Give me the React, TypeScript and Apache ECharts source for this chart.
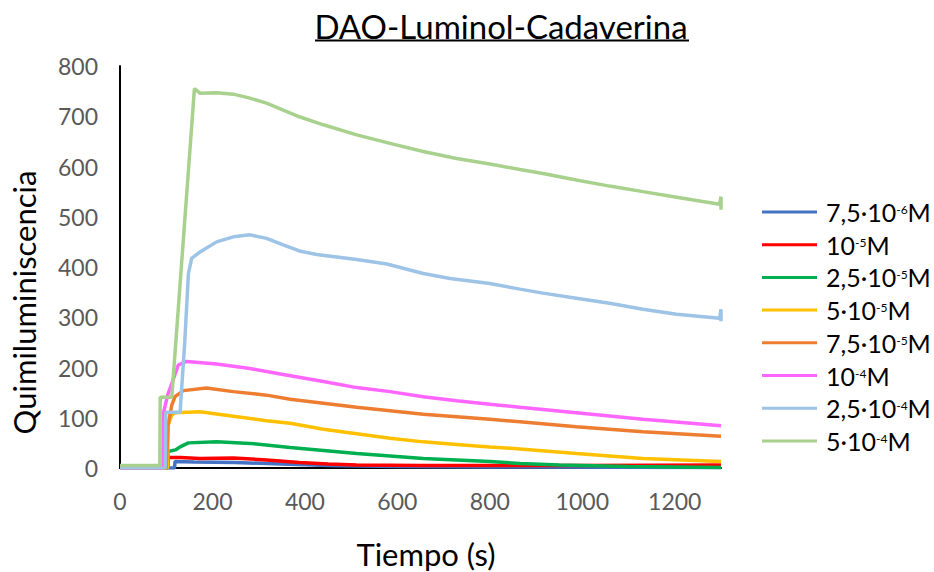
import { useEffect, useRef } from "react";
import * as echarts from "echarts";

// ---- Data (time in s, chemiluminescence) ----
const seriesNames = ["7,5·10⁻⁶M", "10⁻⁵M", "2,5·10⁻⁵M", "5·10⁻⁵M", "7,5·10⁻⁵M", "10⁻⁴M", "2,5·10⁻⁴M", "5·10⁻⁴M"];
const legendBase = ["7,5·10", "10", "2,5·10", "5·10", "7,5·10", "10", "2,5·10", "5·10"];
const legendExp = ["-6", "-5", "-5", "-5", "-5", "-4", "-4", "-4"];
const seriesColors = ["#4472C4", "#FF0000", "#00B050", "#FFC000", "#ED7D31", "#FF66FF", "#9DC3E6", "#A9D18E"];

const c75e6 = [[0, 0], [118, 0], [119, 13], [160, 12], [250, 11], [350, 8], [450, 5], [600, 3], [800, 2], [1300, 1]];
const c1e5 = [[0, 0], [103, 0], [104, 21], [130, 21], [173, 19], [245, 20], [317, 16], [388, 11], [450, 8], [512, 6], [650, 5], [800, 5], [1000, 5], [1300, 6]];
const c25e5 = [[0, 0], [103, 0], [104, 33], [120, 36], [130, 42], [148, 50], [209, 52], [281, 49], [368, 41], [440, 35], [512, 29], [584, 24], [656, 19], [728, 16], [800, 13], [865, 9], [950, 6], [1100, 3], [1300, 1]];
const c5e5 = [[0, 0], [103, 0], [104, 85], [112, 105], [119, 110], [173, 112], [245, 103], [317, 94], [368, 89], [440, 77], [512, 68], [584, 59], [656, 52], [728, 47], [800, 42], [865, 38], [987, 29], [1131, 19], [1300, 13]];
const c75e5 = [[0, 0], [100, 0], [104, 86], [112, 125], [119, 142], [137, 154], [187, 159], [245, 152], [317, 145], [368, 137], [440, 129], [512, 121], [584, 114], [656, 107], [728, 102], [800, 97], [865, 92], [987, 82], [1131, 72], [1300, 63]];
const c1e4 = [[0, 0], [93, 0], [94, 109], [103, 145], [112, 168], [126, 205], [144, 212], [209, 207], [281, 198], [353, 186], [440, 172], [512, 160], [584, 152], [656, 142], [728, 134], [800, 127], [865, 121], [987, 110], [1131, 97], [1300, 84]];
const c25e4 = [[0, 0], [98, 0], [99, 111], [130, 111], [140, 250], [148, 387], [155, 417], [173, 430], [209, 450], [245, 460], [281, 464], [317, 457], [353, 444], [388, 432], [425, 425], [512, 415], [577, 406], [656, 387], [714, 377], [800, 367], [865, 356], [915, 348], [987, 338], [1059, 328], [1131, 316], [1204, 306], [1297, 298], [1300, 316], [1300, 292]];
const c5e4 = [[0, 5], [86, 5], [87, 141], [112, 141], [161, 755], [173, 746], [209, 747], [245, 744], [281, 736], [317, 726], [353, 712], [388, 699], [440, 683], [512, 663], [584, 646], [656, 630], [728, 616], [800, 605], [865, 594], [915, 586], [987, 573], [1059, 561], [1131, 550], [1204, 539], [1297, 525], [1300, 540], [1300, 514]];
const seriesData = [c75e6, c1e5, c25e5, c5e5, c75e5, c1e4, c25e4, c5e4];

const xMin = 0, xMax = 1300, xInterval = 200;
const yMin = 0, yMax = 800, yInterval = 100;

const titleText = "DAO-Luminol-Cadaverina";
const xName = "Tiempo (s)";
const yName = "Quimiluminiscencia";

const FONT = "Lato, 'Open Sans', sans-serif";

export default function App() {
  const ref = useRef<HTMLDivElement>(null);
  useEffect(() => {
    const chart = echarts.init(ref.current!, null, { renderer: "svg" });
    chart.setOption({
      animation: false,
      color: seriesColors,
      backgroundColor: "#ffffff",
      grid: { left: 120, top: 66, right: 213, bottom: 104, containLabel: false },
      xAxis: {
        type: "value",
        min: xMin,
        max: xMax,
        interval: xInterval,
        axisLine: { show: true, lineStyle: { color: "#000", width: 2 } },
        axisTick: { show: false },
        splitLine: { show: false },
        axisLabel: {
          fontSize: 23,
          color: "#595959",
          fontFamily: FONT,
          margin: 21,
          showMaxLabel: false,
          formatter: (v: number) => String(v),
        },
      },
      yAxis: {
        type: "value",
        min: yMin,
        max: yMax,
        interval: yInterval,
        axisLine: { show: true, lineStyle: { color: "#000", width: 2 } },
        axisTick: { show: false },
        splitLine: { show: false },
        axisLabel: { fontSize: 23, color: "#595959", fontFamily: FONT, margin: 22, formatter: (v: number) => String(v) },
      },
      legend: {
        orient: "vertical",
        left: 762,
        top: 199,
        padding: 0,
        itemGap: 6.7,
        itemWidth: 55,
        itemHeight: 3,
        icon: "rect",
        data: seriesNames,
        formatter: (name: string) => {
          const i = seriesNames.indexOf(name);
          return `{b|${legendBase[i]}}{s|${legendExp[i]}}{b|M}`;
        },
        textStyle: {
          color: "#000",
          fontFamily: FONT,
          fontSize: 25,
          lineHeight: 26,
          padding: [0, 0, 0, 4],
          rich: {
            b: { fontSize: 25, lineHeight: 26, fontFamily: FONT, color: "#000" },
            s: { fontSize: 12, lineHeight: 12, fontFamily: FONT, color: "#000", padding: [0, 0, 5, 0] },
          },
        },
      },
      graphic: [
        {
          type: "text",
          x: 501,
          y: 26,
          style: { text: titleText, fontSize: 33, fontFamily: FONT, fill: "#000", textAlign: "center", textVerticalAlign: "middle" },
        },
        {
          type: "line",
          shape: { x1: 315, y1: 40.5, x2: 689, y2: 40.5 },
          style: { stroke: "#000", lineWidth: 2 },
        },
        {
          type: "text",
          x: 426,
          y: 554,
          style: { text: xName, fontSize: 31, fontFamily: FONT, fill: "#000", textAlign: "center", textVerticalAlign: "middle" },
        },
        {
          type: "text",
          x: 24,
          y: 302.5,
          rotation: Math.PI / 2,
          style: { text: yName, fontSize: 31, fontFamily: FONT, fill: "#000", textAlign: "center", textVerticalAlign: "middle" },
        },
      ],
      series: seriesData.map((d, i) => ({
        name: seriesNames[i],
        type: "line",
        data: d,
        showSymbol: false,
        symbol: "none",
        lineStyle: { width: 3.5, color: seriesColors[i] },
        itemStyle: { color: seriesColors[i] },
      })),
    });
    return () => chart.dispose();
  }, []);
  return (
    <div
      ref={ref}
      style={{ position: "fixed", left: 0, top: 0, width: 934, height: 572, background: "#fff" }}
    />
  );
}
